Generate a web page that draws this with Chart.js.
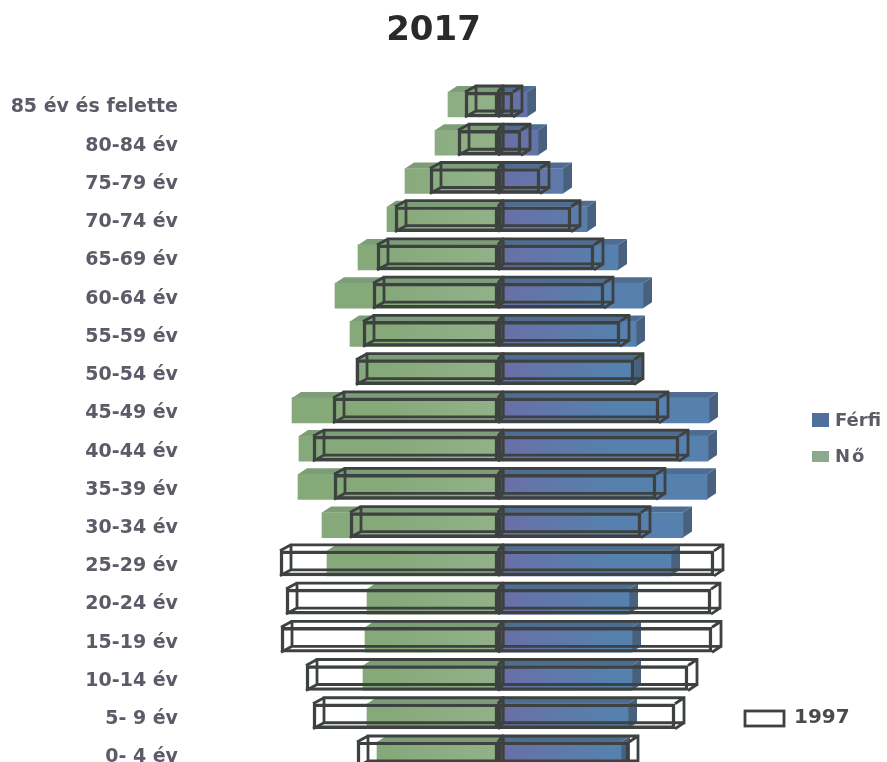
<!DOCTYPE html>
<html lang="hu">
<head>
<meta charset="utf-8">
<title>2017</title>
<script src="https://cdn.jsdelivr.net/npm/chart.js@4"></script>
<style>
    html, body { margin: 0; padding: 0; background: #fff; overflow: hidden; }
    canvas { display: block; }
</style>
</head>
<body>
<canvas id="piramis" width="887" height="790"></canvas>
<script>
// Korcsoportok felülről lefelé
const korcsoportok = ['85 év és felette', '80-84 év', '75-79 év', '70-74 év', '65-69 év', '60-64 év',
    '55-59 év', '50-54 év', '45-49 év', '40-44 év', '35-39 év', '30-34 év', '25-29 év', '20-24 év',
    '15-19 év', '10-14 év', '5- 9 év', '0- 4 év'];

// Ezer fő
const no2017 = [100, 126, 186, 222, 280, 326, 296, 284, 412, 398, 400, 352, 342, 262, 266, 270, 262, 242];
const ferfi2017 = [58, 80, 130, 178, 240, 290, 276, 272, 422, 420, 418, 370, 346, 262, 268, 268, 260, 246];
const no1997 = [66, 80, 136, 206, 242, 250, 270, 284, 330, 370, 328, 296, 436, 424, 434, 384, 370, 282];
const ferfi1997 = [30, 46, 84, 146, 192, 212, 244, 272, 322, 362, 316, 286, 432, 426, 428, 380, 354, 262];

const WIRE = '#3d413f';
const TEXT = '#5c5c68';

function negative(values) {
    return values.map(v => -v);
}

function barGradient(context, at, near, far, fallback) {
    const chart = context.chart;
    if (!chart.chartArea) return fallback;
    const x = chart.scales.x;
    const g = chart.ctx.createLinearGradient(x.getPixelForValue(0), 0, x.getPixelForValue(at), 0);
    g.addColorStop(0, near);
    g.addColorStop(1, far);
    return g;
}

function fillFace(ctx, color, pts) {
    ctx.fillStyle = color;
    ctx.beginPath();
    pts.forEach((p, i) => i ? ctx.lineTo(p[0], p[1]) : ctx.moveTo(p[0], p[1]));
    ctx.closePath();
    ctx.fill();
}

// A 3D hatás: teteje és oldala a színes oszlopoknak
function drawDepth(chart, index, topColor, sideColor) {
    const ctx = chart.ctx;
    const dx = 9, dy = 6;
    chart.getDatasetMeta(index).data.forEach(bar => {
        const t = bar.y - bar.height / 2, b = bar.y + bar.height / 2;
        const l = Math.min(bar.x, bar.base), r = Math.max(bar.x, bar.base);
        fillFace(ctx, topColor, [[l, t], [l + dx, t - dy], [r + dx, t - dy], [r, t]]);
        fillFace(ctx, sideColor, [[r, t], [r + dx, t - dy], [r + dx, b - dy], [r, b]]);
    });
}

// Az 1997-es drótváz hátsó lapja és élei
function drawWire(chart, index, dxEnd, dxBase) {
    const ctx = chart.ctx;
    const dy = 6;
    ctx.strokeStyle = WIRE;
    ctx.lineWidth = 2.8;
    chart.getDatasetMeta(index).data.forEach(bar => {
        const t = bar.y - bar.height / 2, b = bar.y + bar.height / 2;
        ctx.beginPath();
        ctx.rect(Math.min(bar.x + dxEnd, bar.base + dxBase), t - dy,
            Math.abs(bar.x + dxEnd - bar.base - dxBase), b - t);
        [[bar.x, t, dxEnd], [bar.x, b, dxEnd], [bar.base, t, dxBase], [bar.base, b, dxBase]].forEach(c => {
            ctx.moveTo(c[0], c[1]);
            ctx.lineTo(c[0] + c[2], c[1] - dy);
        });
        ctx.stroke();
    });
}

function drawLegend(chart) {
    const ctx = chart.ctx;
    ctx.save();
    ctx.textBaseline = 'middle';
    ctx.textAlign = 'left';

    fillFace(ctx, '#4f6f9c', [[812, 413], [829, 413], [829, 427], [812, 427]]);
    fillFace(ctx, '#8aa98f', [[812, 451], [829, 451], [829, 462], [812, 462]]);
    ctx.fillStyle = TEXT;
    ctx.font = 'bold 18px "DejaVu Sans"';
    ctx.fillText(chart.data.datasets[1].label, 835, 421);
    ctx.letterSpacing = '2px';
    ctx.fillText(chart.data.datasets[2].label, 835, 457);
    ctx.letterSpacing = '0px';

    ctx.strokeStyle = WIRE;
    ctx.lineWidth = 2.8;
    ctx.strokeRect(745, 711, 39, 15);
    ctx.fillStyle = '#4a4a4a';
    ctx.font = 'bold 20px "DejaVu Sans"';
    ctx.fillText(chart.data.datasets[0].label, 794, 718);
    ctx.restore();
}

const piramisPlugin = {
    id: 'piramis',
    beforeDatasetsDraw(chart) {
        drawDepth(chart, 2, '#7c9d78', '#7c9d78');
        drawDepth(chart, 1, '#4f6d92', '#47617f');
    },
    afterDatasetsDraw(chart) {
        drawWire(chart, 0, 9, 5);
        drawWire(chart, 3, 11, 5);
    },
    afterDraw: drawLegend
};

new Chart(document.getElementById('piramis'), {
    type: 'bar',
    plugins: [piramisPlugin],
    data: {
        labels: korcsoportok,
        datasets: [
            {
                label: '1997',
                data: ferfi1997,
                order: 0,
                backgroundColor: 'transparent',
                borderColor: WIRE,
                borderWidth: 2.8,
                borderSkipped: false
            },
            {
                label: 'Férfi',
                data: ferfi2017,
                order: 1,
                backgroundColor: c => barGradient(c, 220, '#6a6fa6', '#5680ad', '#5f78a8')
            },
            {
                label: 'Nő',
                data: negative(no2017),
                order: 1,
                backgroundColor: c => barGradient(c, -220, '#92b188', '#86a97a', '#8aa983')
            },
            {
                label: '1997',
                data: negative(no1997),
                order: 0,
                backgroundColor: 'transparent',
                borderColor: WIRE,
                borderWidth: 2.8,
                borderSkipped: false
            }
        ]
    },
    options: {
        indexAxis: 'y',
        responsive: false,
        animation: false,
        layout: { padding: { right: 20 } },
        datasets: { bar: { grouped: false, barThickness: 25 } },
        plugins: {
            legend: { display: false },
            tooltip: { enabled: false },
            title: {
                display: true,
                text: '2017',
                color: '#2a2a2a',
                font: { family: '"DejaVu Sans"', size: 34, weight: 'bold' },
                padding: { top: 10.6, bottom: 34 }
            }
        },
        scales: {
            x: { display: false, min: -630, max: 738 },
            y: {
                afterFit: s => { s.width = 183; },
                grid: { display: false, drawTicks: false },
                border: { display: false },
                ticks: {
                    color: TEXT,
                    padding: 5,
                    autoSkip: false,
                    labelOffset: 3,
                    font: { family: '"DejaVu Sans"', size: 19, weight: 'bold' }
                }
            }
        }
    }
});
</script>
</body>
</html>
